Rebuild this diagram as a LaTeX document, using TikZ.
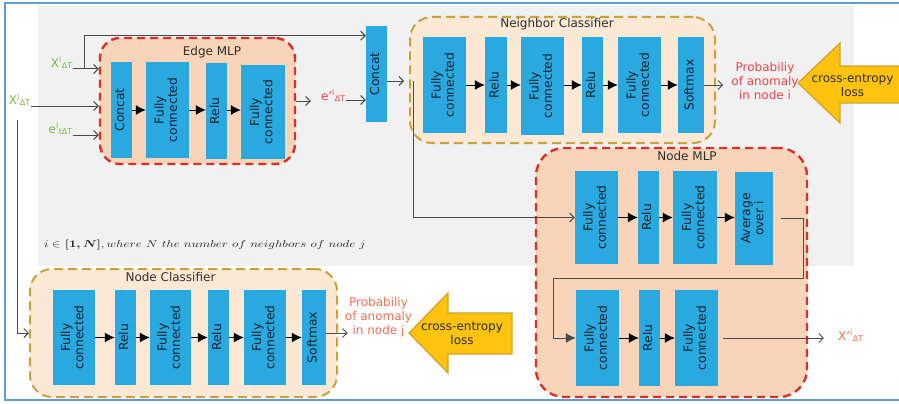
\documentclass[tikz,border=0pt]{standalone}
\usepackage{fontspec}
\setmainfont{DejaVu Sans}
\usepackage{graphicx}
\usetikzlibrary{arrows.meta}
\definecolor{blu}{HTML}{29A9E0}
\definecolor{boxtxt}{HTML}{15222E}
\definecolor{peach}{HTML}{F8D4B8}
\definecolor{lpeach}{HTML}{FCE9D5}
\definecolor{dred}{HTML}{D8302C}
\definecolor{gold}{HTML}{C8A23C}
\definecolor{graybg}{HTML}{F1F1F1}
\definecolor{framec}{HTML}{5E9DD4}
\definecolor{wirec}{HTML}{4A4A4A}
\definecolor{ttlc}{HTML}{2E2E2E}
\definecolor{grn}{HTML}{7DB443}
\definecolor{redt}{HTML}{EE4248}
\definecolor{salm}{HTML}{F06E55}
\definecolor{yel}{HTML}{FDC30F}
\definecolor{yelb}{HTML}{D1A22A}
\newcommand{\rotlbl}[1]{\rotatebox{90}{\begin{tabular}{@{}c@{}}#1\end{tabular}}}
\renewcommand{\arraystretch}{0.95}
\begin{document}
\begin{tikzpicture}[x=1pt,y=-1pt,
  blk/.style={fill=blu, inner sep=0pt, text=boxtxt, font=\fontsize{12.3}{14}\selectfont},
  redbox/.style={draw=dred, fill=peach, line width=2.4pt, dash pattern=on 8pt off 5pt, rounded corners=20pt},
  goldbox/.style={draw=gold, fill=lpeach, line width=2pt, dash pattern=on 9pt off 5pt, rounded corners=22pt},
  ttl/.style={font=\fontsize{12}{14}\selectfont, text=ttlc, inner sep=0pt},
  wire/.style={draw=wirec, line width=1pt, -{Straight Barb[length=4.5pt,width=9pt]}},
  inar/.style={draw=black, line width=1pt, -{Latex[length=10pt,width=10pt]}},
  lbl/.style={inner sep=0pt, font=\fontsize{12}{14}\selectfont},
  yarrow/.style={fill=yel, draw=yelb, line width=1.2pt, line join=miter},
]
\useasboundingbox (0,0) rectangle (899,404);
% background
\fill[graybg] (38,6) rectangle (854,266);
\draw[framec, line width=2pt] (5,3) rectangle (910,400);

% containers
\node[redbox, minimum width=195pt, minimum height=126pt] (emlp) at (197.5,101) {};
\node[goldbox, minimum width=305pt, minimum height=126pt] (ncls) at (562.5,80) {};
\node[redbox, rounded corners=28pt, minimum width=271pt, minimum height=249pt] (nmlp) at (671.5,272.5) {};
\node[goldbox, minimum width=307pt, minimum height=128pt] (ndcls) at (183.5,333) {};

% titles
\node[ttl] (temlp) at (212,52) {Edge MLP};
\node[ttl] (tncls) at (557,24) {Neighbor Classifier};
\node[ttl] (tnmlp) at (687,156) {Node MLP};
\node[ttl] (tndcls) at (170.5,277) {Node Classifier};

% Edge MLP boxes
\node[blk, minimum width=21pt, minimum height=96pt] (e1) at (121.5,110) {\rotlbl{Concat}};
\node[blk, minimum width=43pt, minimum height=96pt] (e2) at (167.5,110) {\rotlbl{Fully\\connected}};
\node[blk, minimum width=21pt, minimum height=96pt] (e3) at (216.5,111) {\rotlbl{Relu}};
\node[blk, minimum width=44pt, minimum height=94pt] (e4) at (263,112) {\rotlbl{Fully\\connected}};
% second concat
\node[blk, minimum width=21pt, minimum height=96pt] (cat2) at (376.5,74) {\rotlbl{Concat}};

% Neighbor classifier boxes
\node[blk, minimum width=43pt, minimum height=96pt] (n1) at (444.5,85) {\rotlbl{Fully\\connected}};
\node[blk, minimum width=22pt, minimum height=96pt] (n2) at (496,85) {\rotlbl{Relu}};
\node[blk, minimum width=43pt, minimum height=98pt] (n3) at (542.5,86) {\rotlbl{Fully\\connected}};
\node[blk, minimum width=21pt, minimum height=96pt] (n4) at (592.5,85) {\rotlbl{Relu}};
\node[blk, minimum width=43pt, minimum height=96pt] (n5) at (639.5,85) {\rotlbl{Fully\\connected}};
\node[blk, minimum width=26pt, minimum height=96pt] (n6) at (691,85) {\rotlbl{Softmax}};

% Node MLP boxes
\node[blk, minimum width=43pt, minimum height=93pt] (m1) at (596.5,217.5) {\rotlbl{Fully\\connected}};
\node[blk, minimum width=21pt, minimum height=93pt] (m2) at (648.5,217.5) {\rotlbl{Relu}};
\node[blk, minimum width=44pt, minimum height=93pt] (m3) at (695,217.5) {\rotlbl{Fully\\connected}};
\node[blk, minimum width=38pt, minimum height=93pt] (m4) at (754,218.5) {\rotlbl{Average\\over i}};
\node[blk, minimum width=43pt, minimum height=96pt] (m5) at (597.5,338) {\rotlbl{Fully\\connected}};
\node[blk, minimum width=21pt, minimum height=96pt] (m6) at (649.5,338) {\rotlbl{Relu}};
\node[blk, minimum width=43pt, minimum height=96pt] (m7) at (696.5,338) {\rotlbl{Fully\\connected}};

% Node classifier boxes
\node[blk, minimum width=42pt, minimum height=95pt] (c1) at (74,337.5) {\rotlbl{Fully\\connected}};
\node[blk, minimum width=21pt, minimum height=95pt] (c2) at (125.5,337.5) {\rotlbl{Relu}};
\node[blk, minimum width=41pt, minimum height=95pt] (c3) at (170.5,337.5) {\rotlbl{Fully\\connected}};
\node[blk, minimum width=21pt, minimum height=95pt] (c4) at (218.5,337.5) {\rotlbl{Relu}};
\node[blk, minimum width=42pt, minimum height=95pt] (c5) at (265,337.5) {\rotlbl{Fully\\connected}};
\node[blk, minimum width=24pt, minimum height=95pt] (c6) at (314,337.5) {\rotlbl{Softmax}};

% internal arrows
\draw[inar] (e1.east |- 0,110) -- (e2.west |- 0,110);
\draw[inar] (e2.east |- 0,110) -- (e3.west |- 0,110);
\draw[inar] (e3.east |- 0,110) -- (e4.west |- 0,110);
\draw[inar] (n1) -- (n2);
\draw[inar] (n2) -- (n3.west |- n2);
\draw[inar] (n3.east |- n2) -- (n4);
\draw[inar] (n4) -- (n5);
\draw[inar] (n5) -- (n6);
\draw[inar] (m1) -- (m2);
\draw[inar] (m2) -- (m3);
\draw[inar] (m3) -- (m4.west |- m3);
\draw[inar] (m5) -- (m6);
\draw[inar] (m6) -- (m7);
\draw[inar] (c1) -- (c2);
\draw[inar] (c2) -- (c3);
\draw[inar] (c3) -- (c4);
\draw[inar] (c4) -- (c5);
\draw[inar] (c5) -- (c6);

% labels
\node[lbl, text=grn, anchor=base east] (xi) at (73,67) {X\textsuperscript{i}\textsubscript{ΔT}};
\node[lbl, text=grn, anchor=base east] (xj) at (31,104) {X\textsuperscript{j}\textsubscript{ΔT}};
\node[lbl, text=grn, anchor=base east] (ei) at (73,133) {e\textsuperscript{i}\textsubscript{tΔT}};
\node[lbl, text=redt, anchor=base east] (ep) at (346,100) {e'\textsuperscript{i}\textsubscript{ΔT}};
\node[lbl, text=salm, anchor=base east] (xo) at (864,340) {X'\textsuperscript{i}\textsubscript{ΔT}};
\node[lbl, text=redt, align=center, font=\fontsize{12}{14}\selectfont] (pi) at (765,81) {Probabiliy\\of anomaly\\in node i};
\node[lbl, text=salm, align=center, font=\fontsize{12}{14}\selectfont] (pj) at (378.5,317.5) {Probabiliy\\of anomaly\\in node j};
\node[inner sep=0pt, anchor=west, text=black!85] (note) at (44,244.5) {\scalebox{1.29}[1]{\fontsize{10}{11}\selectfont $i \in$ {\boldmath$[1,N]$}$, where\ N\ the\ number\ of\ neighbors\ of\ node\ j$}};

% coordinates
\coordinate (xisplit) at (84,69);
\coordinate (xjdown) at (17,120);
\coordinate (br) at (413,81);
\coordinate (lp1) at (803,278);
\coordinate (lp2) at (553,278);

% wires
\draw[wire] (xi.south east) -- (xi.south east -| emlp.west);
\draw[wire] (xisplit) |- ([yshift=-10pt]cat2.north west);
\draw[wire] (xj.south east) -- (xj.south east -| emlp.west);
\draw[wire] (ei.south east) -- (ei.south east -| emlp.west);
\draw[wire] (xjdown) |- (ndcls.west);
\draw[wire, shorten >=10pt] (emlp.east) -- (emlp.east -| ep.west);
\draw[wire] (ep.east |- 0,100) -- (cat2.west |- 0,100);
\draw[wire, shorten >=5pt] (cat2.east |- br) -- (br -| ncls.west);
\draw[wire] (br) |- (m1.west);
\draw[wire, shorten >=8pt] (n6.east) -- (n6.east -| pi.west);
\draw[draw=wirec, line width=1pt, -{Latex[length=10pt,width=10pt]}] ([xshift=8pt]m4.east) -| (lp1) -- (lp2) |- (m5.west);
\draw[wire, shorten <=5pt, shorten >=14pt] (m7.east) -- (m7.east -| xo.west);
\draw[wire, shorten >=-3pt] (c6.east |- 0,333) -- (pj.west |- 0,333);

% yellow loss arrows
\draw[yarrow] (798,83) -- (840,43) -- (840,66) -- (910,66) -- (910,103) -- (840,103) -- (840,123) -- cycle;
\node[lbl, align=center, text=ttlc, font=\fontsize{12}{13.5}\selectfont] (loss1) at (852.5,85.5) {cross-entropy\\loss};
\draw[yarrow] (409,333) -- (448,293) -- (448,313) -- (512,313) -- (512,354) -- (448,354) -- (448,373) -- cycle;
\node[lbl, align=center, text=ttlc, font=\fontsize{12}{13.5}\selectfont] (loss2) at (462,333.5) {cross-entropy\\loss};
\end{tikzpicture}
\end{document}
